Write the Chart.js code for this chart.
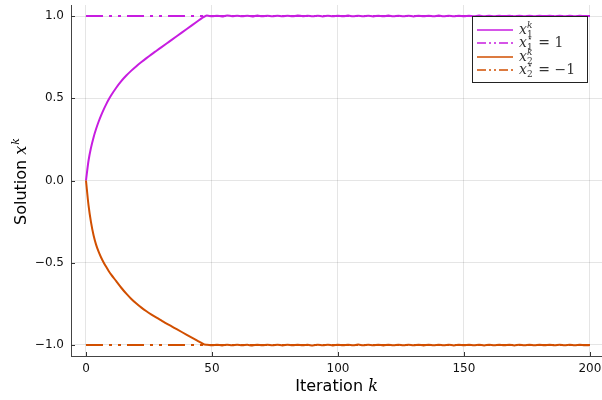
<!DOCTYPE html>
<html>
<head>
<meta charset="utf-8">
<script src="https://cdn.jsdelivr.net/npm/chart.js@4.4.1/dist/chart.umd.min.js"></script>
<style>
  html, body { margin: 0; padding: 0; background: #fff; }
  canvas { display: block; }
</style>
</head>
<body>
<canvas id="solutionChart" width="602" height="400"></canvas>
<script>
// iterations 0..47 (transient part)
const iterHead = [0, 1, 2, 3, 4, 5, 6, 7, 8, 9, 10, 12, 14, 16, 18, 20, 22, 24, 26, 28, 30, 32, 34, 36, 38, 40, 42, 44, 46, 47];
const x1Head = [0, 0.12, 0.2, 0.262, 0.313, 0.357, 0.396, 0.431, 0.463, 0.492, 0.518, 0.564, 0.604, 0.638, 0.668, 0.695, 0.72, 0.744, 0.767, 0.789, 0.811, 0.833, 0.855, 0.877, 0.899, 0.921, 0.943, 0.965, 0.987, 0.997];
const x2Head = [0, -0.15, -0.255, -0.333, -0.39, -0.433, -0.468, -0.498, -0.525, -0.55, -0.572, -0.612, -0.652, -0.688, -0.72, -0.748, -0.773, -0.795, -0.815, -0.834, -0.852, -0.87, -0.887, -0.904, -0.921, -0.938, -0.955, -0.972, -0.989, -0.997];

// iterations 48..200 (jitter around the solution)
const iterTail = [48, 50, 52, 54, 56, 58, 60, 62, 64, 66, 68, 70, 72, 74, 76, 78, 80, 82, 84, 86, 88, 90, 92, 94, 96, 98,
  100, 102, 104, 106, 108, 110, 112, 114, 116, 118, 120, 122, 124, 126, 128, 130, 132, 134, 136, 138, 140, 142, 144, 146, 148,
  150, 152, 154, 156, 158, 160, 162, 164, 166, 168, 170, 172, 174, 176, 178, 180, 182, 184, 186, 188, 190, 192, 194, 196, 198, 200];
const x1Tail = [1.003, 0.998, 1.002, 0.997, 1.003, 0.999, 1.002, 0.998, 1.002, 0.997,
  1.003, 0.998, 1.002, 0.999, 1.002, 0.998, 1.002, 0.998, 1.003, 0.999,
  1.002, 0.998, 1.002, 0.997, 1.002, 0.998, 1.002, 0.998, 1.003, 0.998,
  1.002, 0.999, 1.002, 0.997, 1.002, 0.998, 1.003, 0.998, 1.002, 0.999,
  1.002, 0.997, 1.002, 0.998, 1.002, 0.998, 1.003, 0.998, 1.002, 0.999,
  1.002, 0.998, 1.002, 0.998, 1.003, 0.998, 1.002, 0.999, 1.002, 0.998,
  1.002, 0.998, 1.002, 0.998, 1.002, 0.999, 1.002, 0.998, 1.002, 0.998,
  1.002, 0.999, 1.002, 0.998, 1.002, 0.999, 1.000];
const x2Tail = [-0.998, -1.002, -0.998, -1.003, -0.998, -1.002, -0.998, -1.002, -0.999, -1.003,
  -0.998, -1.002, -0.998, -1.002, -0.998, -1.003, -0.998, -1.002, -0.998, -1.002,
  -0.999, -1.003, -0.998, -1.002, -0.998, -1.003, -0.998, -1.002, -0.998, -1.002,
  -0.997, -1.002, -0.998, -1.002, -0.998, -1.003, -0.998, -1.002, -0.998, -1.002,
  -0.999, -1.002, -0.998, -1.003, -0.998, -1.002, -0.998, -1.002, -0.998, -1.003,
  -0.998, -1.002, -0.999, -1.002, -0.998, -1.003, -0.998, -1.002, -0.998, -1.002,
  -0.998, -1.003, -0.998, -1.002, -0.998, -1.002, -0.998, -1.002, -0.999, -1.002,
  -0.998, -1.002, -0.998, -1.002, -0.998, -1.002, -1.000];

const solIter = [0, 200];
const x1Star = [1, 1];
const x2Star = [-1, -1];

const xTicks = [0, 50, 100, 150, 200];
const yTicks = [-1, -0.5, 0, 0.5, 1];
const yTickLabels = ['\u22121.0', '\u22120.5', '0.0', '0.5', '1.0'];

const magenta = '#c71de0';
const orange = '#d14f00';

function toPoints(ks, vs) {
    return ks.map((k, i) => ({ x: k, y: vs[i] }));
}

// label parts: base, subscript, superscript, rest
const legendItems = [
    { base: 'x', sub: '1', sup: 'k', rest: '', color: magenta, dash: [] },
    { base: 'x', sub: '1', sup: '\u22c6', rest: ' = 1', color: magenta, dash: [9, 3, 2, 3, 2, 3] },
    { base: 'x', sub: '2', sup: 'k', rest: '', color: orange, dash: [] },
    { base: 'x', sub: '2', sup: '\u22c6', rest: ' = \u22121', color: orange, dash: [9, 3, 2, 3, 2, 3] }
];

const decorPlugin = {
    id: 'decor',
    afterDraw(chart) {
        const ctx = chart.ctx;
        const area = chart.chartArea;
        const xs = chart.scales.x;
        const ys = chart.scales.y;

        // inward ticks
        ctx.save();
        ctx.strokeStyle = '#333';
        ctx.lineWidth = 1;
        ctx.beginPath();
        xTicks.forEach(v => {
            const px = Math.round(xs.getPixelForValue(v)) + 0.5;
            ctx.moveTo(px, area.bottom);
            ctx.lineTo(px, area.bottom - 4);
        });
        yTicks.forEach(v => {
            const py = Math.round(ys.getPixelForValue(v)) + 0.5;
            ctx.moveTo(area.left, py);
            ctx.lineTo(area.left + 4, py);
        });
        ctx.stroke();

        // axis titles
        ctx.fillStyle = '#000';
        ctx.textBaseline = 'alphabetic';
        const t1 = 'Iteration ';
        ctx.font = '16px "DejaVu Sans"';
        const w1 = ctx.measureText(t1).width;
        ctx.font = 'italic 16px "DejaVu Serif"';
        const w2 = ctx.measureText('k').width;
        let sx = (area.left + area.right) / 2 - (w1 + w2) / 2;
        ctx.font = '16px "DejaVu Sans"';
        ctx.fillText(t1, sx, 391);
        ctx.font = 'italic 16px "DejaVu Serif"';
        ctx.fillText('k', sx + w1, 391);

        ctx.save();
        ctx.translate(26, 182);
        ctx.rotate(-Math.PI / 2);
        ctx.font = '16px "DejaVu Sans"';
        const s1 = 'Solution ';
        const sw1 = ctx.measureText(s1).width;
        ctx.font = 'italic 16px "DejaVu Serif"';
        const sw2 = ctx.measureText('x').width;
        ctx.font = 'italic 11px "DejaVu Serif"';
        const sw3 = ctx.measureText('k').width;
        let rx = -(sw1 + sw2 + sw3) / 2;
        ctx.font = '16px "DejaVu Sans"';
        ctx.fillText(s1, rx, 0);
        ctx.font = 'italic 16px "DejaVu Serif"';
        ctx.fillText('x', rx + sw1, 0);
        ctx.font = 'italic 11px "DejaVu Serif"';
        ctx.fillText('k', rx + sw1 + sw2 + 1, -7);
        ctx.restore();

        // legend box
        const bx = 472.5, by = 16.5, bw = 115, bh = 66;
        ctx.fillStyle = '#fff';
        ctx.fillRect(bx, by, bw, bh);
        ctx.strokeStyle = '#222';
        ctx.lineWidth = 1;
        ctx.strokeRect(bx, by, bw, bh);
        const rows = [30, 43, 57, 70];
        legendItems.forEach((it, i) => {
            const y = rows[i];
            ctx.strokeStyle = it.color;
            ctx.lineWidth = 1.5;
            ctx.setLineDash(it.dash);
            ctx.beginPath();
            ctx.moveTo(477, y);
            ctx.lineTo(513, y);
            ctx.stroke();
            ctx.setLineDash([]);
            ctx.fillStyle = '#333';
            let tx = 519;
            ctx.font = 'italic 14px "DejaVu Serif"';
            ctx.fillText(it.base, tx, y + 4);
            tx += ctx.measureText(it.base).width;
            ctx.font = '9px "DejaVu Serif"';
            ctx.fillText(it.sub, tx, y + 7);
            ctx.font = (it.sup === 'k' ? 'italic ' : '') + '9px "DejaVu Serif"';
            ctx.fillText(it.sup, tx, y - 2);
            tx += Math.max(ctx.measureText(it.sup).width, 6) + 1;
            if (it.rest) {
                ctx.font = '14px "DejaVu Serif"';
                ctx.fillText(it.rest, tx, y + 4);
            }
        });
        ctx.restore();
    }
};

const ctx = document.getElementById('solutionChart');

new Chart(ctx, {
    type: 'line',
    data: {
        datasets: [
            {
                label: 'x1^k',
                data: toPoints(iterHead.concat(iterTail), x1Head.concat(x1Tail)),
                borderColor: magenta,
                borderWidth: 2,
                pointRadius: 0,
                cubicInterpolationMode: 'monotone',
                order: 4
            },
            {
                label: 'x1* = 1',
                data: toPoints(solIter, x1Star),
                borderColor: magenta,
                borderWidth: 2,
                borderDash: [17, 6, 3, 6, 3, 6],
                pointRadius: 0,
                order: 3
            },
            {
                label: 'x2^k',
                data: toPoints(iterHead.concat(iterTail), x2Head.concat(x2Tail)),
                borderColor: orange,
                borderWidth: 2,
                pointRadius: 0,
                cubicInterpolationMode: 'monotone',
                order: 2
            },
            {
                label: 'x2* = -1',
                data: toPoints(solIter, x2Star),
                borderColor: orange,
                borderWidth: 2,
                borderDash: [17, 6, 3, 6, 3, 6],
                pointRadius: 0,
                order: 1
            }
        ]
    },
    options: {
        responsive: false,
        animation: false,
        layout: { padding: { top: 5, right: 0, bottom: 0, left: 0 } },
        plugins: {
            legend: { display: false },
            tooltip: { enabled: false }
        },
        scales: {
            x: {
                type: 'linear',
                min: -5.95,
                max: 204.8,
                afterBuildTicks: scale => { scale.ticks = xTicks.map(v => ({ value: v })); },
                afterFit: scale => { scale.height = 44; scale.paddingLeft = 0; scale.paddingRight = 0; },
                grid: { color: 'rgba(0,0,0,0.1)', drawTicks: false },
                border: { display: true, color: '#444', width: 1 },
                ticks: {
                    padding: 6,
                    maxRotation: 0,
                    autoSkip: false,
                    color: '#111',
                    font: { family: '"DejaVu Sans"', size: 12 }
                }
            },
            y: {
                type: 'linear',
                min: -1.0669,
                max: 1.0669,
                afterBuildTicks: scale => { scale.ticks = yTicks.map(v => ({ value: v })); },
                afterFit: scale => { scale.width = 71; scale.paddingTop = 0; scale.paddingBottom = 0; },
                grid: { color: 'rgba(0,0,0,0.1)', drawTicks: false },
                border: { display: true, color: '#444', width: 1 },
                ticks: {
                    padding: 7,
                    color: '#111',
                    font: { family: '"DejaVu Sans"', size: 12 },
                    callback: (v) => yTickLabels[yTicks.indexOf(v)]
                }
            }
        }
    },
    plugins: [decorPlugin]
});
</script>
</body>
</html>
